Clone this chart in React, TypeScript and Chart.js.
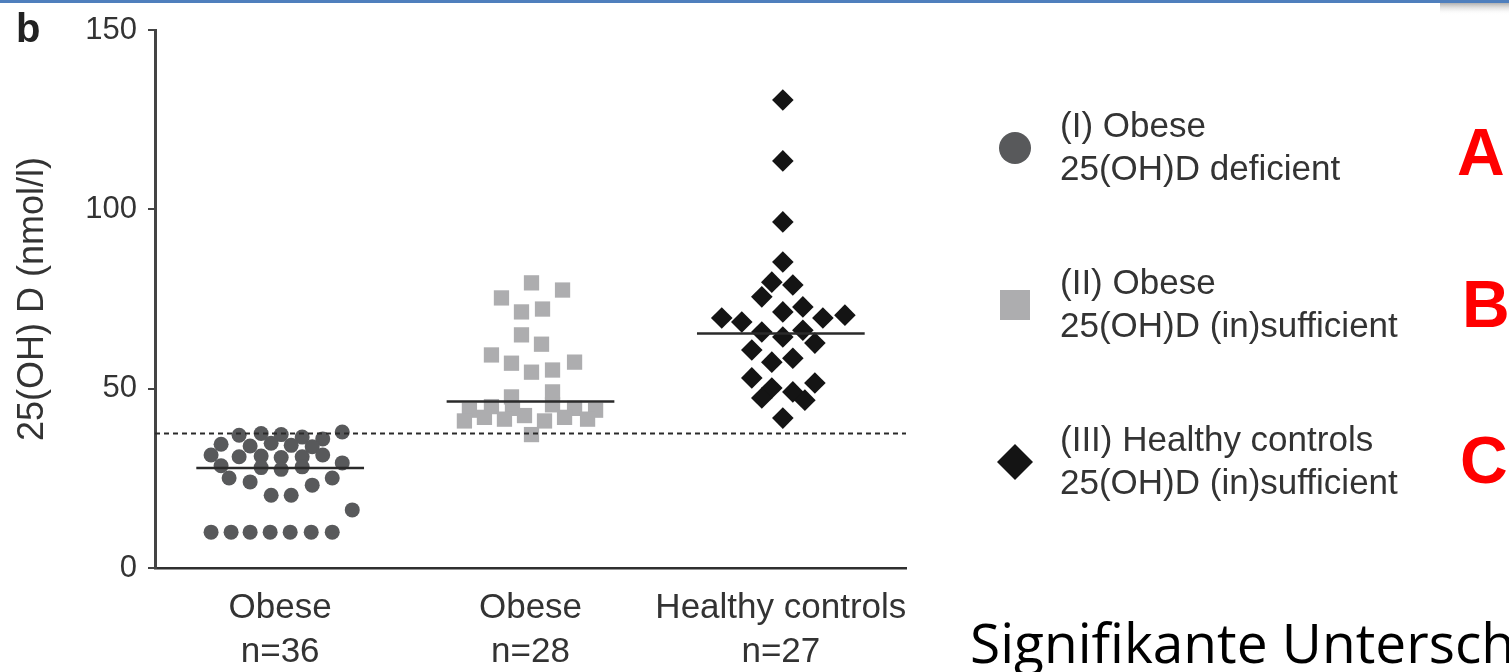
import React, { useEffect, useRef } from 'react';
import { Chart, registerables } from 'chart.js';

Chart.register(...registerables);

// ---------- data ----------
const categoryLabels: string[][] = [
  ['Obese', 'n=36'],
  ['Obese', 'n=28'],
  ['Healthy controls', 'n=27'],
];
const legendLabels: string[][] = [
  ['(I) Obese', '25(OH)D deficient'],
  ['(II) Obese', '25(OH)D (in)sufficient'],
  ['(III) Healthy controls', '25(OH)D (in)sufficient'],
];
const groupLetters = ['A', 'B', 'C'];
const yTickValues = [0, 50, 100, 150];
const yAxisTitle = '25(OH) D (nmol/l)';
const panelLabel = 'b';
const footerText = 'Signifikante Untersch';

// (I) Obese, 25(OH)D deficient: values and beeswarm offsets
const obeseDeficientValues = [
  10, 10, 10, 10, 10, 10, 10,
  16.2,
  20.3, 20.3,
  25.1, 24, 23.1, 25.1,
  37.9, 29.3,
  37, 37.5, 37.2, 36.5, 36,
  34.5, 34, 34.8, 34.2, 33.8,
  31.5, 31, 31.2, 30.8, 31, 31.5,
  28.5, 28, 27.5, 28.2,
];
const obeseDeficientOffsets = [
  -0.276, -0.196, -0.12, -0.04, 0.04, 0.124, 0.208,
  0.288,
  -0.036, 0.044,
  -0.204, -0.12, 0.128, 0.208,
  0.248, 0.248,
  -0.164, -0.076, 0.004, 0.088, 0.17,
  -0.236, -0.12, -0.036, 0.044, 0.128,
  -0.276, -0.164, -0.076, 0.004, 0.088, 0.17,
  -0.236, -0.076, 0.004, 0.088,
];

// (II) Obese, 25(OH)D (in)sufficient
const obeseSufficientValues = [
  79.5, 77.5, 75.3, 71.4, 72.2, 65, 62.4, 59.4, 57.1, 57.4, 54.6, 55.2, 47.7, 49.1,
  44, 45, 44.5, 45.5, 44.5, 44,
  41, 42, 41.5, 42.5, 41, 42, 41.5,
  37.2,
];
const obeseSufficientOffsets = [
  0.004, 0.128, -0.116, -0.036, 0.048, -0.036, 0.044, -0.156, -0.076, 0.176, 0.004, 0.088, -0.076, 0.088,
  -0.244, -0.156, -0.072, 0.088, 0.176, 0.26,
  -0.264, -0.184, -0.104, -0.024, 0.056, 0.136, 0.228,
  0.004,
];

// (III) Healthy controls
const healthyValues = [
  130.5, 113.5, 96.5, 85.3, 79.7, 78.9, 75.6, 71.4, 72.8, 69.7, 68.6, 69.7, 70.5,
  65.8, 64.4, 66.3, 62.7, 60.8, 57.4, 58.5, 53, 50.2, 47.4, 49.1, 46.8, 51.6, 41.8,
];
const healthyOffsets = [
  0.008, 0.008, 0.008, 0.008, -0.036, 0.048, -0.076, 0.008, 0.088, -0.236, -0.156, 0.168, 0.256,
  -0.076, 0.008, 0.088, 0.136, -0.116, -0.036, 0.048, -0.116, -0.036, -0.076, 0.048, 0.096, 0.136, 0.008,
];

const groupMeans = [27.9, 46.4, 65.4];
const thresholdValue = 37.5;

// ---------- styles ----------
const groupColors = ['#58595b', '#adadaf', '#141414'];
const pointStyles = ['circle', 'rect', 'rectRot'];
const pointRadii = [7.5, 10.8, 10.8];
const textColor = '#333333';
const FONT = '"Liberation Sans", Arial, sans-serif';

const decorPlugin = {
  id: 'decor',
  afterDraw(chart: any) {
    const ctx: CanvasRenderingContext2D = chart.ctx;
    ctx.save();
    // top slide border
    ctx.fillStyle = '#4f7fbd';
    ctx.fillRect(0, 0, 1509, 3);
    const g = ctx.createLinearGradient(0, 3, 0, 15);
    g.addColorStop(0, '#b0b0b0');
    g.addColorStop(1, 'rgba(255,255,255,0)');
    ctx.fillStyle = g;
    ctx.fillRect(1440, 3, 69, 12);

    // panel label
    ctx.fillStyle = '#222';
    ctx.font = `bold 40px ${FONT}`;
    ctx.textAlign = 'left';
    ctx.textBaseline = 'alphabetic';
    ctx.fillText(panelLabel, 16, 42);

    // legend
    const rowsY = [148, 305, 462];
    const mx = 1015;
    rowsY.forEach((cy, i) => {
      ctx.fillStyle = groupColors[i];
      ctx.beginPath();
      if (i === 0) {
        ctx.arc(mx, cy, 16, 0, Math.PI * 2);
      } else if (i === 1) {
        ctx.rect(mx - 15, cy - 15, 30, 30);
      } else {
        ctx.moveTo(mx, cy - 18);
        ctx.lineTo(mx + 18, cy);
        ctx.lineTo(mx, cy + 18);
        ctx.lineTo(mx - 18, cy);
        ctx.closePath();
      }
      ctx.fill();
      ctx.fillStyle = '#333';
      ctx.font = `35px ${FONT}`;
      ctx.textAlign = 'left';
      ctx.textBaseline = 'middle';
      ctx.fillText(legendLabels[i][0], 1060, cy - 21);
      ctx.fillText(legendLabels[i][1], 1060, cy + 22);
    });

    // red group letters
    ctx.fillStyle = '#ff0000';
    ctx.font = `bold 66px ${FONT}`;
    ctx.textBaseline = 'alphabetic';
    ctx.textAlign = 'left';
    const letterPos = [[1457, 175], [1462, 327], [1460, 483]];
    groupLetters.forEach((l, i) => ctx.fillText(l, letterPos[i][0], letterPos[i][1]));

    // footer text
    ctx.fillStyle = '#000';
    ctx.font = `55px "Open Sans", sans-serif`;
    ctx.fillText(footerText, 970, 663);
    ctx.restore();
  },
};

function buildPoints(values: number[], offsets: number[], group: number) {
  return values.map((v, i) => ({ x: group + offsets[i], y: v }));
}

export default function App() {
  const ref = useRef<HTMLCanvasElement | null>(null);

  useEffect(() => {
    if (!ref.current) return;
    const meanLines = groupMeans.map((m, i) => ({
      data: [
        { x: i + 1 - 0.335, y: m },
        { x: i + 1 + 0.335, y: m },
      ],
      showLine: true,
      pointRadius: 0,
      borderColor: '#2a2a2a',
      borderWidth: 2.5,
    }));
    const threshold = {
      data: [
        { x: 0.5, y: thresholdValue },
        { x: 3.5, y: thresholdValue },
      ],
      showLine: true,
      pointRadius: 0,
      borderColor: '#2a2a2a',
      borderWidth: 2.2,
      borderDash: [5, 4],
    };
    const groups = [
      buildPoints(obeseDeficientValues, obeseDeficientOffsets, 1),
      buildPoints(obeseSufficientValues, obeseSufficientOffsets, 2),
      buildPoints(healthyValues, healthyOffsets, 3),
    ].map((pts, i) => ({
      label: legendLabels[i].join(' '),
      data: pts,
      pointStyle: pointStyles[i],
      pointRadius: pointRadii[i],
      pointBackgroundColor: groupColors[i],
      pointBorderColor: groupColors[i],
      pointBorderWidth: 0,
      showLine: false,
    }));

    const chart = new Chart(ref.current, {
      type: 'scatter',
      data: { datasets: [...meanLines, threshold, ...groups] as any },
      options: {
        animation: false,
        responsive: false,
        events: [],
        layout: { padding: { left: 0, top: 30, right: 603, bottom: 0 } },
        plugins: { legend: { display: false }, tooltip: { enabled: false } },
        scales: {
          x: {
            type: 'linear',
            min: 0.5,
            max: 3.5,
            afterBuildTicks: (s: any) => {
              s.ticks = categoryLabels.map((_, i) => ({ value: i + 1 }));
            },
            afterFit: (s: any) => {
              s.height = 104;
            },
            grid: { display: false, drawTicks: false },
            border: { display: true, color: '#2f2f2f', width: 2.5 },
            ticks: {
              autoSkip: false,
              maxRotation: 0,
              padding: 18,
              color: textColor,
              font: { family: FONT, size: 35, lineHeight: 1.257 },
              callback: (v: any) => categoryLabels[Math.round(Number(v)) - 1] ?? '',
            },
          },
          y: {
            type: 'linear',
            min: 0,
            max: 150,
            afterBuildTicks: (s: any) => {
              s.ticks = yTickValues.map((v) => ({ value: v }));
            },
            afterFit: (s: any) => {
              s.width = 155;
            },
            grid: {
              display: true,
              drawOnChartArea: false,
              drawTicks: true,
              tickLength: 7,
              color: '#444',
              lineWidth: 2,
            },
            border: { display: true, color: '#444', width: 3 },
            ticks: {
              padding: 11,
              color: textColor,
              font: { family: FONT, size: 31 },
            },
            title: {
              display: true,
              text: yAxisTitle,
              color: textColor,
              font: { family: FONT, size: 36 },
              padding: { top: 11, bottom: 0 },
            },
          },
        },
      },
      plugins: [decorPlugin],
    });
    return () => chart.destroy();
  }, []);

  return (
    <div style={{ position: 'absolute', left: 0, top: 0, width: 1509, height: 672, background: '#fff' }}>
      <canvas ref={ref} width={1509} height={672} style={{ display: 'block' }} />
    </div>
  );
}
